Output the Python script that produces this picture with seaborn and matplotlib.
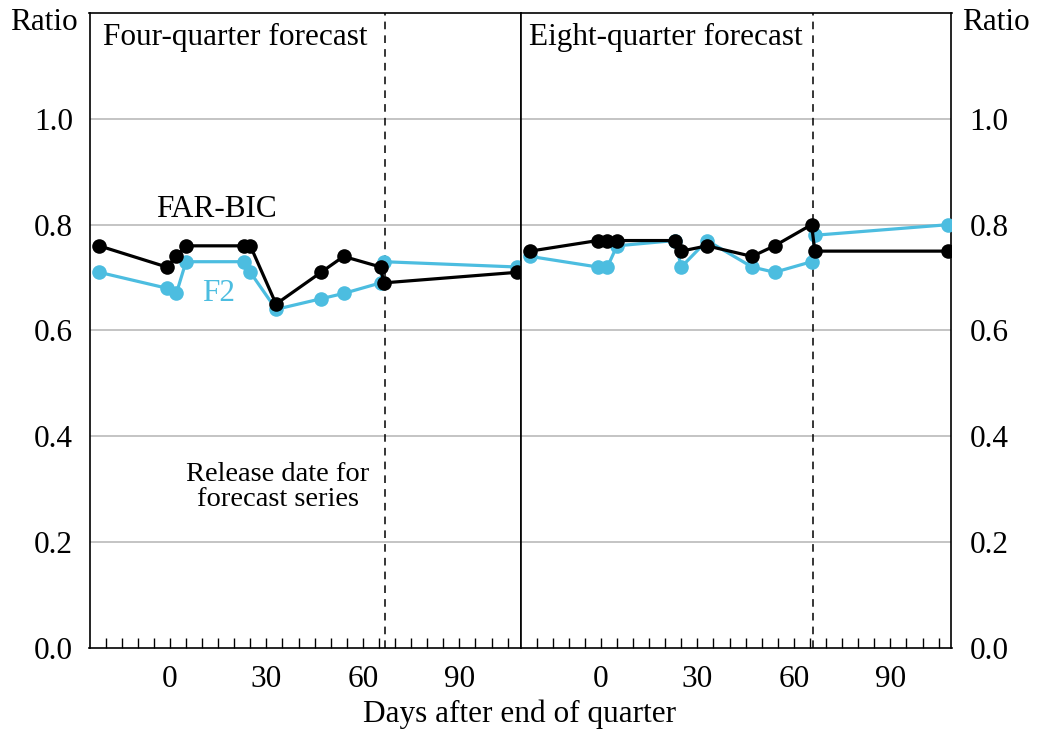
import matplotlib
matplotlib.use("Agg")
import matplotlib.pyplot as plt
import numpy as np
import pandas as pd
import seaborn as sns

# Release dates of the forecast series (days after end of quarter)
days = [-22, -1, 2, 5, 23, 25, 33, 47, 54, 65.5, 66.5, 108]

# Ratio of forecast errors, four-quarter horizon
far_bic_4q = [0.76, 0.72, 0.74, 0.76, 0.76, 0.76, 0.65, 0.71, 0.74, 0.72, 0.69, 0.71]
f2_4q = [0.71, 0.68, 0.67, 0.73, 0.73, 0.71, 0.64, 0.66, 0.67, 0.69, 0.73, 0.72]

# Ratio of forecast errors, eight-quarter horizon
far_bic_8q = [0.75, 0.77, 0.77, 0.77, 0.77, 0.75, 0.76, 0.74, 0.76, 0.80, 0.75, 0.75]
f2_8q = [0.74, 0.72, 0.72, 0.76, 0.77, 0.72, 0.77, 0.72, 0.71, 0.73, 0.78, 0.80]

release_line_4q = 67
release_line_8q = 66

panel_titles = ["Four-quarter forecast", "Eight-quarter forecast"]
xtick_vals = [0, 30, 60, 90]
ytick_vals = [0.0, 0.2, 0.4, 0.6, 0.8, 1.0]

sns.set_style("white")
plt.rcParams["font.family"] = ["Liberation Serif", "DejaVu Serif"]
plt.rcParams["text.color"] = "black"
plt.rcParams["xtick.color"] = "black"
plt.rcParams["ytick.color"] = "black"
plt.rcParams["axes.labelcolor"] = "black"

BLUE = "#4cbde0"
FS = 22.5

fig = plt.figure(figsize=(10.37, 7.33), dpi=100)
W, H = 1037, 733
bottom = (H - 648) / H
height = 635 / H
ax_l = fig.add_axes([89.5 / W, bottom, 431 / W, height])
ax_r = fig.add_axes([520.5 / W, bottom, 431 / W, height])

panels = [
    (ax_l, far_bic_4q, f2_4q, release_line_4q, panel_titles[0], "left", 0.032),
    (ax_r, far_bic_8q, f2_8q, release_line_8q, panel_titles[1], "right", 0.019),
]

for ax, black_vals, blue_vals, rel_x, title, side, title_x in panels:
    df = pd.DataFrame({"days": days, "FAR-BIC": black_vals, "F2": blue_vals})
    ax.set_axisbelow(True)
    for yv in ytick_vals[1:]:
        ax.axhline(yv, color="#b4b4b4", lw=1.1, zorder=0)
    sns.lineplot(data=df, x="days", y="F2", ax=ax, color=BLUE, lw=2.3,
                 marker="o", markersize=10.5, markeredgewidth=0,
                 markeredgecolor=BLUE, estimator=None, sort=False, zorder=3)
    sns.lineplot(data=df, x="days", y="FAR-BIC", ax=ax, color="black", lw=2.3,
                 marker="o", markersize=10.5, markeredgewidth=0,
                 markeredgecolor="black", estimator=None, sort=False, zorder=4)
    ax.axvline(rel_x, color="black", lw=1.1, ls=(0, (5, 4)), zorder=2)

    ax.set_xlim(-25, 109)
    ax.set_ylim(0, 1.2)
    ax.set_xlabel("")
    ax.set_ylabel("")

    minor = np.arange(-20, 106, 5)
    ax.set_xticks(minor)
    ax.set_xticklabels([str(int(v)) if v in xtick_vals else "" for v in minor])
    ax.tick_params(axis="x", direction="in", length=7, width=1.0,
                   labelsize=FS, pad=12, colors="black", bottom=True)

    ax.set_yticks(ytick_vals)
    ax.set_yticklabels([f"{v:.1f}" for v in ytick_vals])
    if side == "left":
        ax.tick_params(axis="y", left=True, right=False, labelleft=True,
                       labelright=False, length=0, labelsize=FS, pad=12,
                       colors="black")
    else:
        ax.tick_params(axis="y", left=False, right=True, labelleft=False,
                       labelright=True, length=0, labelsize=FS, pad=13,
                       colors="black")

    for sp in ax.spines.values():
        sp.set_visible(True)
        sp.set_color("black")
        sp.set_linewidth(1.2)

    ax.text(title_x, 0.985, title, transform=ax.transAxes, ha="left",
            va="top", fontsize=FS, color="black")

# Series labels and annotation in the four-quarter panel
ax_l.text(14.6, 0.829, "FAR-BIC", ha="center", va="center", fontsize=FS,
          color="black")
ax_l.text(15, 0.670, "F2", ha="center", va="center", fontsize=FS, color=BLUE)
ax_l.text(33.5, 0.305, "Release date for\nforecast series", ha="center",
          va="center", fontsize=20.5, linespacing=1.0, color="black")

fig.text(78 / W, 1 - 23 / H, "Ratio", ha="right", va="center", fontsize=FS)
fig.text(962 / W, 1 - 23 / H, "Ratio", ha="left", va="center", fontsize=FS)
fig.text(520 / W, 1 - 714 / H, "Days after end of quarter", ha="center",
         va="center", fontsize=FS)

fig.savefig("out.png", dpi=100)
